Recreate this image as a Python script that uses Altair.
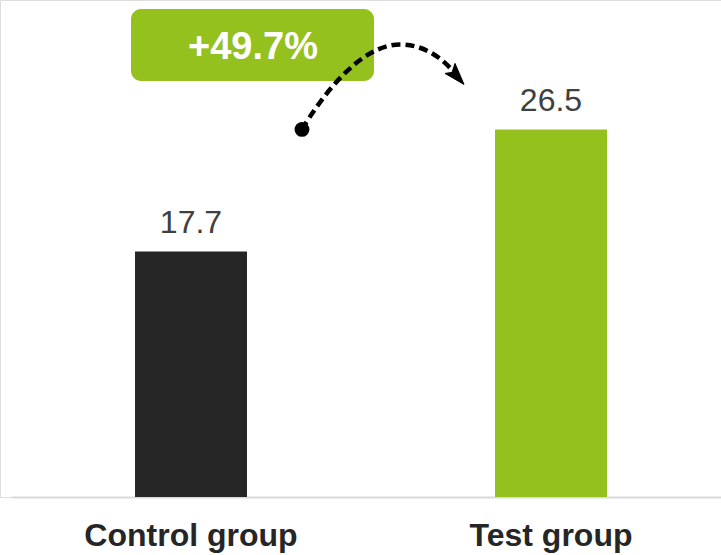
import altair as alt
import pandas as pd

# ---- data ----
groups = ["Control group", "Test group"]
values = [17.7, 26.5]
bar_colors = ["#262626", "#95c11f"]
change_label = ["+49.7%"]

FONT = "Liberation Sans"
GREEN = "#95c11f"

df = pd.DataFrame({"group": groups, "value": values})

x_enc = alt.X(
    "group:N",
    sort=groups,
    scale=alt.Scale(range=[11, 731], paddingInner=0, paddingOuter=0),
    axis=alt.Axis(
        title=None,
        labelAngle=0,
        labelFont=FONT,
        labelFontSize=32,
        labelFontWeight="bold",
        labelColor="#262626",
        labelBaseline="alphabetic",
        labelPadding=48,
        labelLimit=0,
        ticks=False,
        tickSize=0,
        grid=False,
        domainColor="#d9d9d9",
        domainWidth=2,
    ),
)
y_scale = alt.Scale(domain=[0, 35.83], nice=False, zero=True)
y_enc = alt.Y("value:Q", scale=y_scale, axis=None)

base = alt.Chart(df).encode(x=x_enc, y=y_enc)

bars = base.mark_bar(size=112).encode(
    color=alt.Color("group:N", scale=alt.Scale(domain=groups, range=bar_colors), legend=None)
)

labels = base.mark_text(
    baseline="alphabetic", dy=-18, fontSize=32, font=FONT, color="#404040"
).encode(text=alt.Text("value:Q", format=".1f"))

ann_df = pd.DataFrame({"label": change_label})

box = alt.Chart(ann_df).mark_rect(color=GREEN, cornerRadius=10).encode(
    x=alt.value(131), x2=alt.value(374), y=alt.value(9), y2=alt.value(81)
)

box_text = alt.Chart(ann_df).mark_text(
    baseline="alphabetic", align="center", fontSize=38, fontWeight="bold",
    font=FONT, color="white"
).encode(x=alt.value(253), y=alt.value(59), text="label:N")

curve_path = "M0,0 C18,-30 57,-85 98,-85 C126,-85 146,-66 157,-51"
arrow_path = "M162,-45 L143,-56 L150,-57 L153,-66 Z"

curve = alt.Chart(ann_df).mark_point(
    shape=curve_path, size=4, filled=False, stroke="black", strokeWidth=4.5,
    strokeDash=[9, 5], opacity=1
).encode(x=alt.value(302), y=alt.Y(datum=values[1], scale=y_scale))

arrow = alt.Chart(ann_df).mark_point(
    shape=arrow_path, size=4, filled=True, fill="black", stroke="black",
    strokeWidth=1, opacity=1
).encode(x=alt.value(302), y=alt.Y(datum=values[1], scale=y_scale))

dot = alt.Chart(ann_df).mark_circle(size=220, color="black", opacity=1).encode(
    x=alt.value(302), y=alt.Y(datum=values[1], scale=y_scale)
)

chart = (
    alt.layer(bars, labels, box, box_text, curve, arrow, dot)
    .properties(
        width=721,
        height=497,
        padding={"left": 0, "top": 0, "right": 0, "bottom": 58},
        autosize=alt.AutoSizeParams(type="none"),
    )
    .configure_view(stroke=None)
    .configure(background="white")
)

chart.save("out.html", embed_options={"renderer": "svg", "actions": False})
